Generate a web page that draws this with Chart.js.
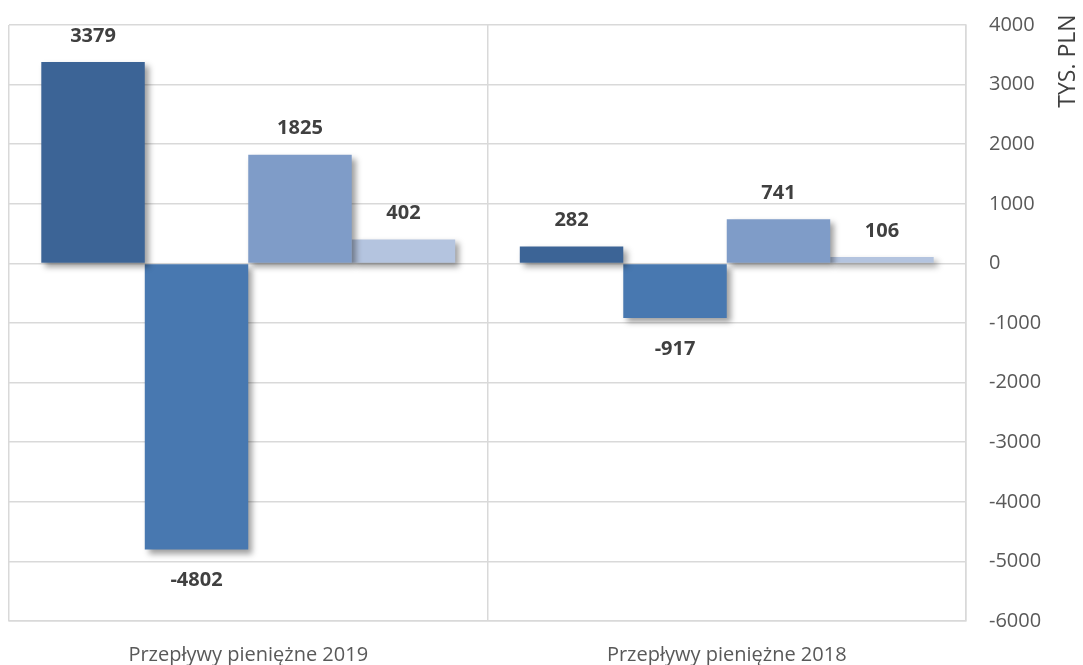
<!DOCTYPE html>
<html><head><meta charset="utf-8">
<script src="https://cdn.jsdelivr.net/npm/chart.js@4/dist/chart.umd.min.js"></script>
<style>html,body{margin:0;padding:0;background:#fff}canvas{display:block}</style>
</head><body>
<canvas id="c" width="1083" height="665"></canvas>
<script>
const categories = ['Przepływy pieniężne 2019', 'Przepływy pieniężne 2018'];
const seriesNames = ['Seria 1', 'Seria 2', 'Seria 3', 'Seria 4'];
const series1 = [3379, 282];
const series2 = [-4802, -917];
const series3 = [1825, 741];
const series4 = [402, 106];
const yMin = -6000, yMax = 4000, yStep = 1000;
const axisTitle = 'TYS. PLN';

const colors = ['#3c6496', '#4878b0', '#7f9cc8', '#b4c4df'];
const FONT = "'Open Sans', 'DejaVu Sans', sans-serif";
const allSeries = [series1, series2, series3, series4];

const shadowPlugin = {
  id: 'barShadow',
  beforeDatasetsDraw(chart) {
    const ctx = chart.ctx;
    ctx.save();
    ctx.shadowColor = 'rgba(0,0,0,0.38)';
    ctx.shadowBlur = 6;
    ctx.shadowOffsetX = 4;
    ctx.shadowOffsetY = 4;
  },
  afterDatasetsDraw(chart) {
    const ctx = chart.ctx;
    ctx.restore();
    ctx.save();
    ctx.font = 'bold 20px ' + FONT;
    ctx.fillStyle = '#404040';
    ctx.textAlign = 'center';
    ctx.textBaseline = 'middle';
    chart.data.datasets.forEach((ds, di) => {
      const meta = chart.getDatasetMeta(di);
      meta.data.forEach((el, i) => {
        const v = ds.data[i];
        const y = v >= 0 ? el.y - 26 : el.y + 31;
        ctx.fillText(String(v), el.x, y);
      });
    });
    ctx.restore();
  },
  afterDraw(chart) {
    const ctx = chart.ctx;
    ctx.save();
    ctx.font = '23px ' + FONT;
    ctx.fillStyle = '#404040';
    ctx.textAlign = 'center';
    ctx.textBaseline = 'middle';
    ctx.translate(1068, 61);
    ctx.rotate(-Math.PI / 2);
    ctx.fillText(axisTitle, 0, 0);
    ctx.restore();
  }
};

new Chart(document.getElementById('c'), {
  type: 'bar',
  data: {
    labels: categories,
    datasets: allSeries.map((d, i) => ({
      label: seriesNames[i],
      data: d,
      backgroundColor: colors[i],
      borderWidth: 0,
      categoryPercentage: 0.865,
      barPercentage: 1.0
    }))
  },
  options: {
    responsive: false,
    animation: false,
    layout: { padding: { top: 25, left: 9, right: 0, bottom: 0 } },
    plugins: { legend: { display: false }, tooltip: { enabled: false } },
    scales: {
      x: {
        grid: { display: true, offset: true, color: '#d9d9d9', lineWidth: 1.5, drawTicks: false },
        border: { display: true, color: '#d9d9d9', width: 1.5 },
        ticks: { color: '#595959', font: { family: FONT, size: 20 }, padding: 22, maxRotation: 0 },
        afterFit(s) { s.height = 44; s.paddingLeft = 0; s.paddingRight = 0; }
      },
      y: {
        position: 'right',
        min: yMin, max: yMax,
        grid: { color: '#d9d9d9', lineWidth: 1.5, drawTicks: false },
        border: { display: true, color: '#d9d9d9', width: 1.5 },
        ticks: { stepSize: yStep, color: '#595959', font: { family: FONT, size: 20 }, padding: 23,
                 callback: (v) => String(v) },
        afterFit(s) { s.width = 117; s.paddingTop = 0; s.paddingBottom = 0; }
      }
    }
  },
  plugins: [shadowPlugin]
});
</script>
</body></html>
